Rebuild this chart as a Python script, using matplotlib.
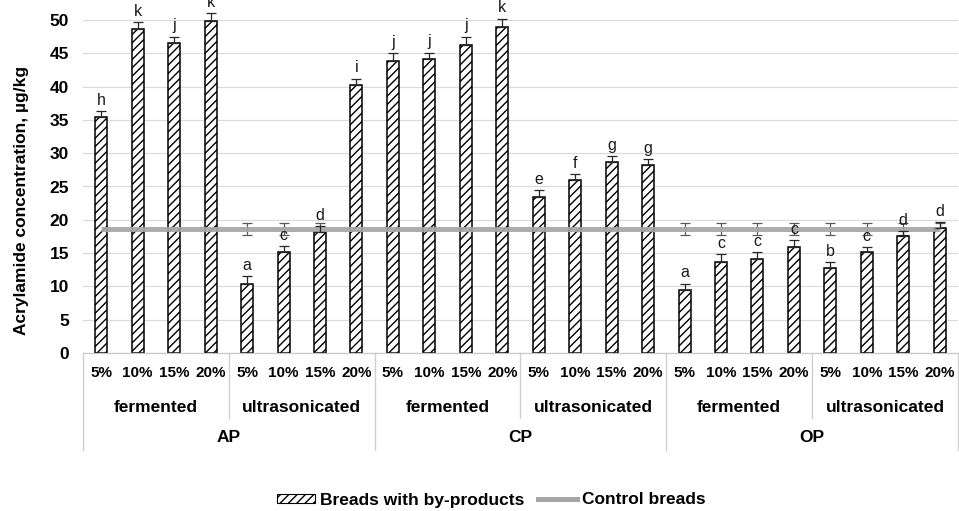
"""Acrylamide concentration in breads with by-products vs control."""
import matplotlib
matplotlib.use("Agg")
import matplotlib.pyplot as plt
import matplotlib.transforms as mtransforms
from matplotlib.lines import Line2D
from matplotlib.patches import Patch
import numpy as np

plt.rcParams["font.family"] = ["Liberation Sans", "DejaVu Sans"]
plt.rcParams["hatch.linewidth"] = 1.0

by_products = ["AP", "CP", "OP"]
treatments = ["fermented", "ultrasonicated"]
levels = ["5%", "10%", "15%", "20%"]

acrylamide = [
    35.4, 48.6, 46.6, 49.9,   # AP fermented
    10.4, 15.1, 18.2, 40.3,   # AP ultrasonicated
    43.8, 44.1, 46.3, 49.0,   # CP fermented
    23.4, 26.0, 28.7, 28.2,   # CP ultrasonicated
    9.5, 13.7, 14.1, 15.9,    # OP fermented
    12.8, 15.1, 17.6, 18.8,   # OP ultrasonicated
]
acrylamide_err = [
    0.9, 1.1, 0.9, 1.1,
    1.1, 1.0, 0.8, 0.9,
    1.2, 1.0, 1.2, 1.2,
    1.0, 0.9, 0.9, 0.9,
    0.9, 1.1, 1.1, 1.0,
    0.9, 0.8, 0.7, 0.8,
]
letters = [
    "h", "k", "j", "k",
    "a", "c", "d", "i",
    "j", "j", "j", "k",
    "e", "f", "g", "g",
    "a", "c", "c", "c",
    "b", "c", "d", "d",
]
control = 18.6
control_err = 0.85

W, H = 959, 511
fig = plt.figure(figsize=(W / 100, H / 100), dpi=100)
ax = fig.add_axes([83 / W, 1 - 353 / H, 875 / W, 333 / H])

x = np.arange(len(acrylamide))
ax.set_xlim(-0.5, len(acrylamide) - 0.5)
ax.set_ylim(0, 50)

# gridlines
ax.set_yticks(np.arange(0, 51, 5))
ax.yaxis.grid(True, color="#d9d9d9", lw=0.8, zorder=0)
ax.set_axisbelow(True)
ax.set_xticks([])
ax.tick_params(axis="y", length=0, pad=10, labelsize=12.5)
for lbl in ax.get_yticklabels():
    lbl.set_fontweight("bold")
for s in ["top", "right", "left"]:
    ax.spines[s].set_visible(False)
ax.spines["bottom"].set_color("#c8c8c8")
ax.spines["bottom"].set_linewidth(0.9)

# control error bars sit behind the bars
ax.errorbar(x, [control] * len(x), yerr=control_err, fmt="none",
            ecolor="#595959", elinewidth=0.9, capsize=3.5, capthick=0.9, zorder=1)

ax.bar(x, acrylamide, width=0.33, color="white", edgecolor="black",
       linewidth=1.1, hatch="////", zorder=2)
ax.errorbar(x, acrylamide, yerr=[np.zeros(len(x)), acrylamide_err], fmt="none",
            ecolor="#262626", elinewidth=0.9, capsize=3.5, capthick=0.9,
            zorder=4, clip_on=False)

ax.plot(x, [control] * len(x), color="#a6a6a6", lw=3.6, alpha=0.92,
        solid_capstyle="butt", zorder=3)

for xi, v, e, t in zip(x, acrylamide, acrylamide_err, letters):
    ax.annotate(t, (xi, v + e), xytext=(0, 4.5), textcoords="offset points",
                ha="center", va="baseline", fontsize=11.5, color="#1a1a1a",
                annotation_clip=False)

fig.text(22 / W, 1 - 200 / H, "Acrylamide concentration, µg/kg", rotation=90,
         ha="center", va="center", fontsize=12.5, fontweight="bold")

# multi-level category axis
trans = mtransforms.blended_transform_factory(ax.transData, fig.transFigure)
y_axis = 1 - 353 / H
y_lvl1 = 1 - 373 / H
y_lvl2 = 1 - 407 / H
y_lvl3 = 1 - 437 / H
y_sep2 = 1 - 418 / H
y_sep3 = 1 - 450 / H
sep_color = "#d0d0d0"

n_lvl = len(levels)
n_trt = len(treatments)
for i, lab in enumerate(levels * (len(by_products) * n_trt)):
    ax.text(i, y_lvl1, lab, transform=trans, ha="center", va="center",
            fontsize=11, fontweight="bold")
for j, lab in enumerate(treatments * len(by_products)):
    ax.text(j * n_lvl + (n_lvl - 1) / 2, y_lvl2, lab, transform=trans,
            ha="center", va="center", fontsize=12.5, fontweight="bold")
for k, lab in enumerate(by_products):
    ax.text(k * n_lvl * n_trt + (n_lvl * n_trt - 1) / 2, y_lvl3, lab,
            transform=trans, ha="center", va="center", fontsize=12.5,
            fontweight="bold")

for j in range(len(by_products) * n_trt + 1):
    xs = j * n_lvl - 0.5
    bottom = y_sep3 if j % n_trt == 0 else y_sep2
    ax.add_line(Line2D([xs, xs], [y_axis, bottom], transform=trans,
                       color=sep_color, lw=1.0, clip_on=False))

handles = [
    Patch(facecolor="white", edgecolor="black", hatch="////", linewidth=0.8,
          label="Breads with by-products"),
    Line2D([], [], color="#a6a6a6", lw=3.6, label="Control breads"),
]
fig.legend(handles=handles, loc="center", bbox_to_anchor=(491 / W, 1 - 500 / H),
           ncol=2, frameon=False, prop={"size": 12.5, "weight": "bold"},
           handlelength=2.2, handleheight=0.4, handletextpad=0.3,
           columnspacing=0.8)

fig.savefig("out.png", dpi=100)
